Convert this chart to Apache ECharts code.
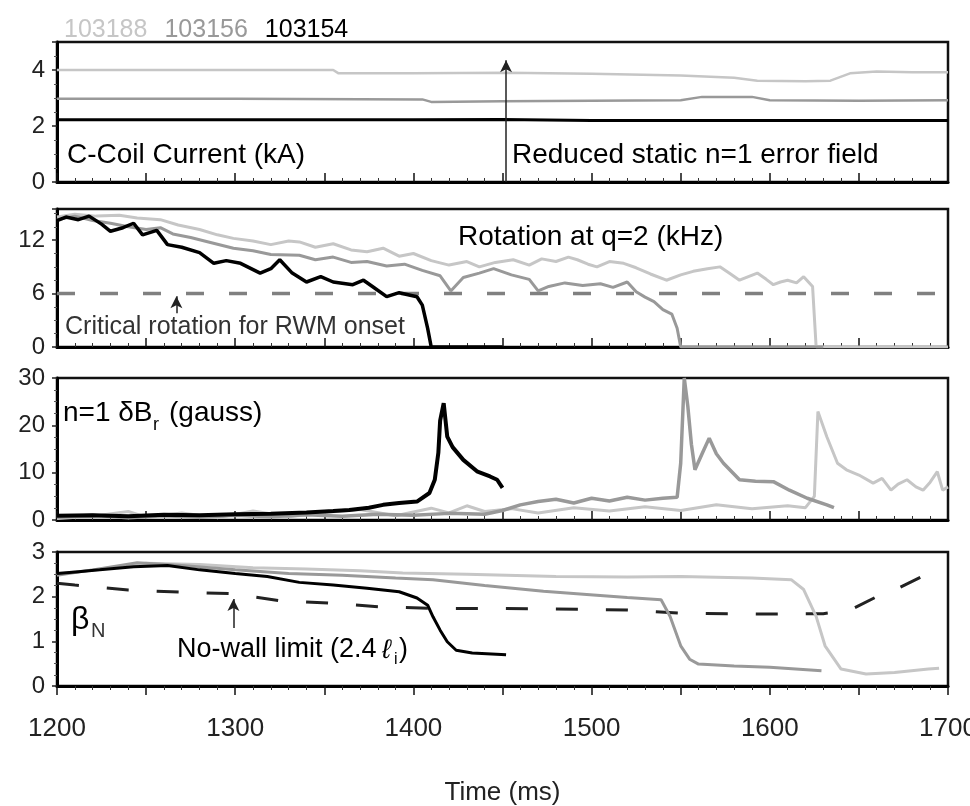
<!DOCTYPE html>
<html>
<head>
<meta charset="utf-8">
<script src="https://cdn.jsdelivr.net/npm/echarts@6/dist/echarts.min.js"></script>
<style>html,body{margin:0;padding:0;background:#fff}#c{width:970px;height:806px}</style>
</head>
<body>
<div id="c"></div>
<script>
// ---- shot names ----
const shots = ['103188', '103156', '103154'];
const shotColors = ['#c6c6c6', '#999999', '#000000'];

// ---- panel 1: C-Coil current (kA) ----
const coil103188 = [[1200,4.0],[1260,4.0],[1320,4.0],[1355,4.0],[1358,3.88],[1400,3.88],[1452,3.9],[1500,3.87],[1550,3.8],[1580,3.72],[1593,3.62],[1620,3.6],[1634,3.62],[1645,3.88],[1660,3.95],[1680,3.92],[1700,3.92]];
const coil103156 = [[1200,2.97],[1300,2.97],[1405,2.95],[1410,2.86],[1450,2.88],[1500,2.9],[1550,2.92],[1562,3.04],[1590,3.04],[1600,2.92],[1650,2.9],[1700,2.92]];
const coil103154 = [[1200,2.22],[1300,2.22],[1400,2.22],[1450,2.23],[1500,2.2],[1600,2.2],[1700,2.2]];

// ---- panel 2: rotation at q=2 (kHz) ----
const rot103188 = [[1200,14.6],[1210,14.9],[1222,14.7],[1235,14.8],[1245,14.5],[1258,14.3],[1268,13.7],[1280,13.2],[1290,12.6],[1299,12.2],[1310,11.9],[1320,11.5],[1330,11.9],[1336,11.8],[1345,11.2],[1355,11.6],[1365,10.9],[1374,10.7],[1383,11.1],[1392,10.2],[1400,10.5],[1410,9.7],[1420,9.2],[1430,9.6],[1437,9.0],[1446,9.5],[1456,9.8],[1465,9.2],[1472,9.9],[1480,9.6],[1487,10.1],[1492,9.8],[1498,9.3],[1503,9.0],[1510,9.6],[1518,9.4],[1525,8.9],[1533,8.2],[1542,7.5],[1550,8.1],[1557,8.5],[1565,8.8],[1572,9.0],[1578,8.2],[1583,7.5],[1588,7.9],[1593,8.3],[1598,7.6],[1602,7.0],[1606,7.3],[1610,7.5],[1615,7.2],[1619,7.9],[1624,6.8],[1626,0],[1700,0]];
const rot103156 = [[1200,14.3],[1210,14.7],[1220,14.2],[1230,13.9],[1240,13.5],[1250,13.2],[1258,13.4],[1265,12.7],[1275,12.3],[1285,11.8],[1299,11.1],[1310,10.8],[1320,10.4],[1336,10.3],[1345,9.8],[1355,10.1],[1365,9.5],[1374,9.6],[1385,9.1],[1395,9.3],[1405,8.6],[1415,8.0],[1421,6.3],[1428,7.8],[1437,8.3],[1445,8.8],[1455,8.1],[1465,7.6],[1470,6.3],[1476,6.8],[1485,7.2],[1495,6.9],[1505,7.1],[1512,6.7],[1520,7.3],[1525,6.2],[1530,5.6],[1535,5.1],[1540,4.2],[1545,3.7],[1548,2.1],[1550,0],[1630,0]];
const rot103154 = [[1200,14.2],[1205,14.6],[1212,14.3],[1218,14.7],[1225,13.8],[1230,13.0],[1237,13.4],[1243,13.9],[1248,12.6],[1256,13.1],[1262,11.5],[1270,11.2],[1280,10.6],[1288,9.4],[1295,9.7],[1303,9.4],[1314,8.3],[1320,8.8],[1325,9.8],[1332,8.3],[1340,7.3],[1348,7.9],[1355,7.3],[1366,7.0],[1372,7.5],[1377,6.8],[1385,5.65],[1392,6.1],[1402,5.65],[1405,4.7],[1408,2.1],[1410,0],[1450,0]];
const critRotation = [[1200,6],[1700,6]];

// ---- panel 3: n=1 dBr (gauss) ----
const db103188 = [[1200,0.3],[1220,0.8],[1240,1.8],[1250,0.6],[1270,1.5],[1290,0.5],[1310,1.9],[1330,0.7],[1350,1.6],[1370,2.2],[1390,0.9],[1410,2.5],[1420,1.5],[1430,3.0],[1440,1.8],[1455,2.4],[1470,1.5],[1490,2.6],[1510,1.9],[1530,2.8],[1550,2.0],[1570,3.2],[1590,2.4],[1610,3.0],[1620,2.6],[1625,5],[1627,22.9],[1632,17.6],[1638,12],[1643,10.6],[1650,9.5],[1658,7.8],[1663,8.8],[1668,6.3],[1672,7.6],[1677,8.5],[1682,7.0],[1686,6.3],[1690,8.0],[1694,10.2],[1697,6.3],[1700,7]];
const db103156 = [[1200,0.6],[1220,1.0],[1240,0.5],[1260,0.9],[1280,0.6],[1300,1.0],[1320,0.7],[1340,1.1],[1360,0.8],[1380,1.2],[1400,1.0],[1420,1.4],[1440,1.2],[1450,2.0],[1460,3.2],[1470,3.9],[1480,4.4],[1490,3.6],[1500,4.6],[1510,4.0],[1520,4.8],[1530,4.2],[1540,4.6],[1548,4.8],[1550,12],[1552,30],[1554,24],[1556,16],[1558,10.6],[1562,14],[1566,17.3],[1570,14],[1574,12],[1583,8.5],[1592,8.2],[1602,8.1],[1611,6.3],[1621,4.6],[1632,3.2],[1636,2.6]];
const db103154 = [[1200,0.9],[1220,1.0],[1240,0.8],[1260,1.1],[1280,1.0],[1300,1.2],[1320,1.3],[1340,1.6],[1355,1.9],[1364,2.1],[1375,2.6],[1383,3.2],[1392,3.6],[1402,3.9],[1409,5.7],[1412,8.5],[1414,14.2],[1415,21],[1417,24.7],[1419,17.6],[1422,15.4],[1428,12.7],[1436,10.2],[1443,9.2],[1447,8.5],[1450,6.8]];

// ---- panel 4: beta_N ----
const beta103188 = [[1200,2.5],[1225,2.62],[1250,2.75],[1280,2.72],[1310,2.65],[1340,2.62],[1370,2.58],[1394,2.53],[1430,2.5],[1480,2.45],[1520,2.44],[1550,2.45],[1590,2.42],[1612,2.38],[1619,2.16],[1626,1.56],[1631,0.9],[1640,0.38],[1654,0.27],[1670,0.3],[1689,0.38],[1695,0.4]];
const beta103156 = [[1200,2.48],[1220,2.6],[1245,2.76],[1270,2.7],[1300,2.6],[1330,2.52],[1360,2.48],[1390,2.42],[1411,2.38],[1440,2.25],[1473,2.12],[1501,2.04],[1520,1.98],[1539,1.93],[1544,1.56],[1550,0.9],[1555,0.6],[1560,0.49],[1580,0.45],[1600,0.42],[1629,0.34]];
const beta103154 = [[1200,2.52],[1212,2.56],[1224,2.6],[1243,2.67],[1262,2.7],[1280,2.6],[1300,2.52],[1318,2.45],[1336,2.32],[1355,2.26],[1374,2.19],[1392,2.11],[1402,1.97],[1408,1.81],[1411,1.55],[1415,1.25],[1419,0.99],[1424,0.8],[1433,0.74],[1452,0.7]];
const noWallLimit = [[1200,2.3],[1210,2.26],[1240,2.15],[1270,2.1],[1297,2.07],[1325,1.91],[1355,1.85],[1382,1.77],[1410,1.74],[1470,1.73],[1520,1.7],[1550,1.63],[1600,1.61],[1630,1.62],[1645,1.7],[1660,2.0],[1670,2.15],[1688,2.5],[1693,2.56]];

// ---- axes ----
const xTicks = [1200, 1300, 1400, 1500, 1600, 1700];
const yMax = [5, 15.5, 30, 3];
const yInterval = [2, 6, 10, 1];

const FONT = "'Liberation Sans', Arial, sans-serif";
const gridPos = [[42,140],[209,138],[378,142],[552,134]];

const chart = echarts.init(document.getElementById('c'), null, {renderer:'canvas'});

const grids = gridPos.map(g => ({left:57, width:891, top:g[0], height:g[1], show:true,
  borderColor:'#111', borderWidth:2.5, backgroundColor:'#fff', containLabel:false, outerBoundsMode:'none'}));

const xAxes = gridPos.map((g, i) => ({
  type:'value', gridIndex:i, min:1200, max:1700, interval:50,
  axisLine:{show:true, lineStyle:{color:'#000', width:3}},
  axisTick:{show:true, inside: i<3, length:9, lineStyle:{color:'#111', width:1.5}},
  minorTick:{show:true, splitNumber:5, length:4, lineStyle:{color:'#333', width:1}},
  splitLine:{show:false},
  axisLabel:{show: i===3, margin:30, fontSize:26, fontFamily:FONT, color:'#222',
    formatter: v => xTicks.includes(v) ? String(v) : ''},
  name: i===3 ? 'Time (ms)' : '', nameLocation:'middle', nameGap:94,
  nameTextStyle:{fontSize:26, fontFamily:FONT, color:'#222'}
}));

const yAxes = gridPos.map((g, i) => ({
  type:'value', gridIndex:i, min:0, max:yMax[i], interval:yInterval[i],
  axisLine:{show:true, lineStyle:{color:'#000', width:3}},
  axisTick:{show:true, inside:false, length:5, lineStyle:{color:'#222', width:1.5}},
  minorTick:{show:true, splitNumber:4, length:3, lineStyle:{color:'#555'}},
  splitLine:{show:false},
  axisLabel:{margin:12, fontSize:24, fontFamily:FONT, color:'#222', showMaxLabel: (i===2 || i===3)}
}));

function line(name, data, idx, color, width, extra) {
  return Object.assign({
    type:'line', name, data, xAxisIndex:idx, yAxisIndex:idx,
    showSymbol:false, symbol:'none', silent:true, animation:false,
    lineStyle:{color, width}, itemStyle:{color}
  }, extra || {});
}
function arrow(x, y0, y1) {
  return {silent:true, animation:false, symbol:['none','arrow'], symbolSize:[9,12],
    label:{show:false}, lineStyle:{color:'#222', width:1.5, type:'solid'},
    data:[[{coord:[x,y0]},{coord:[x,y1]}]]};
}

const panels = [
  [coil103188, coil103156, coil103154],
  [rot103188, rot103156, rot103154],
  [db103188, db103156, db103154],
  [beta103188, beta103156, beta103154]
];
const widths = [[2.5,2.5,3],[3,3,3.5],[3,3.5,4],[3,3,3]];

const series = [];
series.push(line('crit', critRotation, 1, '#808080', 3.5, {lineStyle:{color:'#808080', width:3.5, type:[18,25]}}));
series.push(line('nowall', noWallLimit, 3, '#222', 3, {lineStyle:{color:'#222', width:3, type:[22,28]}}));
panels.forEach((p, i) => {
  p.forEach((d, k) => {
    const s = line(shots[k], d, i, shotColors[k], widths[i][k]);
    if (k === 2 && i === 0) s.markLine = arrow(1452, 0, 4.35);
    if (k === 2 && i === 1) s.markLine = arrow(1267, 3.8, 5.7);
    if (k === 2 && i === 3) s.markLine = arrow(1299, 1.3, 1.95);
    series.push(s);
  });
});

function txt(x, y, text, size, color, extra) {
  return {type:'text', x, y, silent:true,
    style:Object.assign({text, fontSize:size, fontFamily:FONT, fill:color||'#000', verticalAlign:'middle', align:'left'}, extra||{})};
}

const graphic = [
  txt(67, 155, 'C-Coil Current (kA)', 28, '#000'),
  txt(512, 155, 'Reduced static n=1 error field', 28, '#000'),
  txt(458, 237, 'Rotation at q=2 (kHz)', 28, '#000'),
  txt(65, 327, 'Critical rotation for RWM onset', 25, '#333'),
  txt(63, 413, 'n=1 \u03b4B', 28, '#000'),
  txt(153, 425, 'r', 18, '#000'),
  txt(169, 413, '(gauss)', 28, '#000'),
  txt(71, 620, '\u03b2', 32, '#000'),
  txt(91, 631, 'N', 20, '#333'),
  txt(177, 650, 'No-wall limit (2.4', 27, '#000'),
  txt(382, 650, '\u2113', 27, '#000', {fontStyle:'italic'}),
  txt(394, 660, 'i', 16, '#000'),
  txt(399, 650, ')', 27, '#000')
];

chart.setOption({
  animation:false,
  backgroundColor:'#fff',
  legend:{
    left:54, top:13, icon:'none', itemWidth:0, itemHeight:0, itemGap:12, selectedMode:false,
    data: shots.map((s,k) => ({name:s, textStyle:{color: k===2 ? '#000' : shotColors[k]}})),
    textStyle:{fontSize:25, fontFamily:FONT, padding:0}
  },
  grid:grids, xAxis:xAxes, yAxis:yAxes, series, graphic
});
</script>
</body>
</html>
